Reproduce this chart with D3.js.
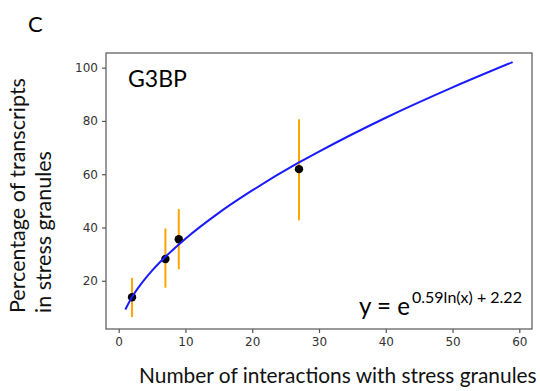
<!DOCTYPE html>
<html lang="en">
<head>
<meta charset="utf-8">
<title>G3BP</title>
<script src="https://cdn.jsdelivr.net/npm/d3@7"></script>
<style>
  body { margin: 0; background: #fff; }
  svg { display: block; }
</style>
</head>
<body>
<script>
// measured points with error bars
var xVals = [2, 7, 9, 27];
var yVals = [13.8, 28.2, 35.6, 61.9];
var yLow  = [6.4, 17.4, 24.3, 42.7];
var yHigh = [21.1, 39.6, 46.9, 80.6];

// fitted curve
var curveX = [1, 2, 3, 5, 7, 10, 15, 20, 27, 30, 40, 50, 59];
var curveY = [9.2, 13.9, 17.6, 23.8, 29.0, 35.8, 45.5, 53.9, 64.4, 68.5, 81.2, 92.6, 102.1];

var xTicks = [0, 10, 20, 30, 40, 50, 60];
var yTicks = [20, 40, 60, 80, 100];

var w = 540, h = 391;
var box = {left: 106, right: 532, top: 53, bottom: 329};

var svg = d3.select("body").append("svg")
  .attr("width", w)
  .attr("height", h);

var x = d3.scaleLinear().domain([-1.9, 61.9]).range([box.left, box.right]);
var y = d3.scaleLinear().domain([1.9, 105.5]).range([box.bottom, box.top]);

var sans = "Lato, 'Open Sans', sans-serif";

// axes
var xAxis = svg.append("g")
  .attr("transform", "translate(0," + box.bottom + ")")
  .call(d3.axisBottom(x).tickValues(xTicks).tickSize(4).tickPadding(4).tickSizeOuter(0));
var yAxis = svg.append("g")
  .attr("transform", "translate(" + box.left + ",0)")
  .call(d3.axisLeft(y).tickValues(yTicks).tickSize(4).tickPadding(4).tickSizeOuter(0));

[xAxis, yAxis].forEach(function(g) {
  g.select(".domain").remove();
  g.selectAll(".tick line").attr("stroke", "#555").attr("stroke-width", 1.2);
  g.selectAll(".tick text")
    .attr("fill", "#333")
    .attr("font-family", "'DejaVu Sans', sans-serif")
    .attr("font-size", "12px");
});

// frame
svg.append("rect")
  .attr("x", box.left)
  .attr("y", box.top)
  .attr("width", box.right - box.left)
  .attr("height", box.bottom - box.top)
  .attr("fill", "none")
  .attr("stroke", "#555")
  .attr("stroke-width", 1.2);

var pts = xVals.map(function(d, i) {
  return {x: d, y: yVals[i], lo: yLow[i], hi: yHigh[i]};
});

// error bars
svg.selectAll("line.err")
  .data(pts)
  .enter()
  .append("line")
  .attr("class", "err")
  .attr("x1", function(d) { return x(d.x); })
  .attr("x2", function(d) { return x(d.x); })
  .attr("y1", function(d) { return y(d.lo); })
  .attr("y2", function(d) { return y(d.hi); })
  .attr("stroke", "#ffa500")
  .attr("stroke-width", 2);

// dots
svg.selectAll("circle")
  .data(pts)
  .enter()
  .append("circle")
  .attr("cx", function(d) { return x(d.x); })
  .attr("cy", function(d) { return y(d.y); })
  .attr("r", 4.2)
  .attr("fill", "#000");

// fit line
var line = d3.line()
  .x(function(d) { return x(d[0]); })
  .y(function(d) { return y(d[1]); })
  .curve(d3.curveMonotoneX);

svg.append("path")
  .datum(curveX.map(function(d, i) { return [d, curveY[i]]; }))
  .attr("d", line)
  .attr("fill", "none")
  .attr("stroke", "#1a1aff")
  .attr("stroke-width", 2);

// helper: scale font so the text spans a given width
function fitText(sel, width) {
  var len = sel.node().getComputedTextLength();
  var fs = parseFloat(sel.attr("font-size"));
  sel.attr("font-size", (fs * width / len) + "px");
}

// panel letter
svg.append("text")
  .attr("x", 28)
  .attr("y", 32)
  .attr("font-family", sans)
  .attr("font-size", "22px")
  .attr("fill", "#000")
  .text("C");

// G3BP label
var g3 = svg.append("text")
  .attr("x", 128)
  .attr("y", 87)
  .attr("font-family", sans)
  .attr("font-size", "23px")
  .attr("fill", "#000")
  .text("G3BP");
fitText(g3, 59);

// equation: base part and exponent
var eqBase = svg.append("text")
  .attr("x", 359)
  .attr("y", 315)
  .attr("font-family", sans)
  .attr("font-size", "27px")
  .attr("fill", "#000")
  .text("y = e");
fitText(eqBase, 51);
var eqExp = svg.append("text")
  .attr("x", 412)
  .attr("y", 303)
  .attr("font-family", sans)
  .attr("font-size", "15px")
  .attr("fill", "#000")
  .text("0.59ln(x) + 2.22");
fitText(eqExp, 110);

// x title
var xt = svg.append("text")
  .attr("x", 139)
  .attr("y", 383)
  .attr("font-family", sans)
  .attr("font-size", "18px")
  .attr("fill", "#111")
  .text("Number of interactions with stress granules");
fitText(xt, 398);

// y title, two lines ending at the same point
var yt1 = svg.append("text")
  .attr("transform", "translate(25,313) rotate(-90)")
  .attr("font-family", sans)
  .attr("font-size", "18px")
  .attr("fill", "#111")
  .text("Percentage of transcripts");
fitText(yt1, 235);
svg.append("text")
  .attr("transform", "translate(51,313) rotate(-90)")
  .attr("font-family", sans)
  .attr("fill", "#111")
  .attr("font-size", yt1.attr("font-size"))
  .text("in stress granules");
</script>
</body>
</html>
